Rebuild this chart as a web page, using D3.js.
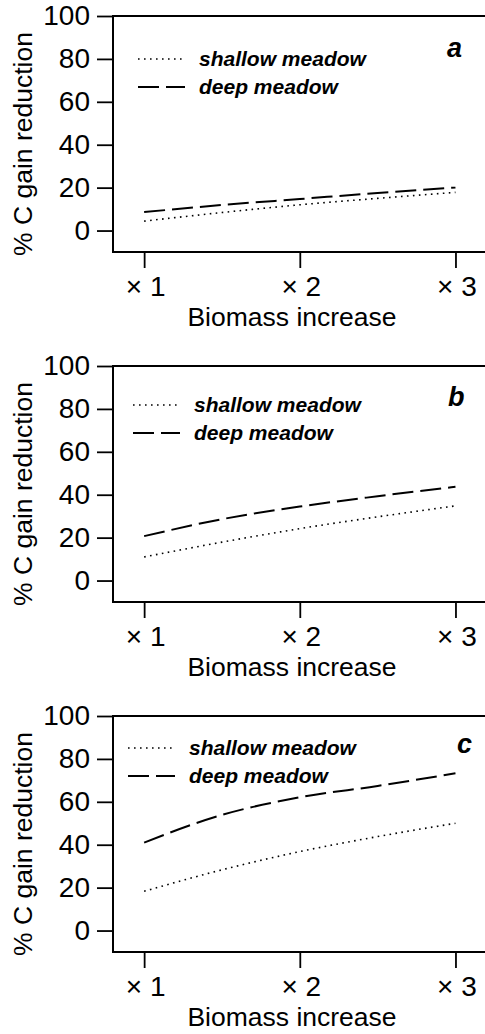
<!DOCTYPE html>
<html>
<head>
<meta charset="utf-8">
<script src="https://cdn.jsdelivr.net/npm/d3@7"></script>
<style>
  html, body { margin: 0; padding: 0; background: #fff; }
  svg { display: block; }
  text { font-family: "Liberation Sans", Arial, sans-serif; fill: #000; }
</style>
</head>
<body>
<svg id="chart" width="485" height="1034"></svg>
<script>
(function() {
  "use strict";

  // x = biomass multiplier
  var biomass = [1, 1.5, 2, 2.5, 3];
  var xTicks = [1, 2, 3];
  var yTicks = [0, 20, 40, 60, 80, 100];
  var panelLetters = ['a', 'b', 'c'];
  var seriesNames = ['shallow meadow', 'deep meadow'];

  // % C gain reduction
  var shallowA = [4.4, 8.4, 12.0, 15.0, 17.8];
  var deepA    = [8.6, 11.9, 14.7, 17.5, 20.1];
  var shallowB = [11.0, 17.9, 24.2, 29.7, 34.8];
  var deepB    = [20.7, 28.6, 34.5, 39.3, 43.7];
  var shallowC = [18.3, 28.3, 36.8, 43.8, 50.0];
  var deepC    = [41.0, 53.9, 62.1, 67.4, 73.3];

  var panelSeries = [[shallowA, deepA], [shallowB, deepB], [shallowC, deepC]];

  // 版面位置 (layout only)
  var config = {
    top: 16,
    step: 350,
    left: 113,
    right: 486.6,
    height: 236,
    tickFont: 28,
    titleFont: 26.5,
    legendFont: 21,
    // offsets relative to each panel top (letter y = baseline)
    legend: [{x: 138, y: 43}, {x: 133, y: 39}, {x: 128, y: 32}],
    letter: [{x: 447, y: 41}, {x: 448, y: 40}, {x: 457, y: 37}],
    styles: [
      {dash: '1.6,4.4', width: 1.6},
      {dash: '21,7', width: 2}
    ]
  };

  var svg = d3.select('#chart');

  var x = d3.scaleLinear().domain([0.8, 3.2]).range([config.left, config.right]);

  var lineFn = d3.line()
    .curve(d3.curveMonotoneX);

  panelSeries.forEach(function(series, idx) {
    var top = config.top + idx * config.step;
    var bottom = top + config.height;
    var y = d3.scaleLinear().domain([-10, 100]).range([bottom, top]);
    var g = svg.append('g').attr('class', 'panel');

    // box: left, top, bottom (right edge falls outside the picture)
    g.append('line')
      .attr('x1', config.left).attr('x2', 500)
      .attr('y1', top).attr('y2', top)
      .attr('stroke', '#000').attr('stroke-width', 2);
    g.append('line')
      .attr('x1', config.left).attr('x2', 500)
      .attr('y1', bottom).attr('y2', bottom)
      .attr('stroke', '#000').attr('stroke-width', 1.8);
    g.append('line')
      .attr('x1', config.left).attr('x2', config.left)
      .attr('y1', top - 1).attr('y2', bottom + 0.9)
      .attr('stroke', '#000').attr('stroke-width', 2);

    // y axis
    var yAxis = g.append('g')
      .attr('transform', 'translate(' + config.left + ',0)')
      .call(d3.axisLeft(y).tickValues(yTicks).tickSize(16).tickPadding(7));
    // x axis
    var xAxis = g.append('g')
      .attr('transform', 'translate(0,' + bottom + ')')
      .call(d3.axisBottom(x).tickValues(xTicks).tickSize(16).tickPadding(8)
        .tickFormat(function(d) { return '\u00d7 ' + d; }));

    [yAxis, xAxis].forEach(function(ax) {
      ax.select('.domain').remove();
      ax.selectAll('.tick line').attr('stroke', '#000').attr('stroke-width', 1.8);
      ax.selectAll('.tick text')
        .attr('fill', '#000')
        .style('font-family', '"Liberation Sans", Arial, sans-serif')
        .style('font-size', config.tickFont + 'px');
    });
    xAxis.selectAll('.tick text').attr('dx', 1);

    // axis titles
    g.append('text')
      .attr('x', 292)
      .attr('y', bottom + 74)
      .attr('text-anchor', 'middle')
      .style('font-size', config.titleFont + 'px')
      .text('Biomass increase');

    g.append('text')
      .attr('transform', 'translate(32,' + (top + 128) + ') rotate(-90)')
      .attr('text-anchor', 'middle')
      .style('font-size', config.titleFont + 'px')
      .text('% C gain reduction');

    // curves
    series.forEach(function(values, s) {
      var pts = values.map(function(v, i) { return [x(biomass[i]), y(v)]; });
      g.append('path')
        .attr('d', lineFn(pts))
        .attr('fill', 'none')
        .attr('stroke', '#000')
        .attr('stroke-width', config.styles[s].width)
        .attr('stroke-dasharray', config.styles[s].dash);
    });

    // legend
    var lg = config.legend[idx];
    seriesNames.forEach(function(name, s) {
      var ly = top + lg.y + s * 28;
      g.append('line')
        .attr('x1', lg.x).attr('x2', lg.x + 47)
        .attr('y1', ly).attr('y2', ly)
        .attr('stroke', '#000')
        .attr('stroke-width', config.styles[s].width)
        .attr('stroke-dasharray', config.styles[s].dash);
      g.append('text')
        .attr('x', lg.x + 61)
        .attr('y', ly + 6.8)
        .style('font-size', config.legendFont + 'px')
        .style('font-weight', 'bold')
        .style('font-style', 'italic')
        .text(name);
    });

    // panel letter
    var lt = config.letter[idx];
    g.append('text')
      .attr('x', lt.x)
      .attr('y', top + lt.y)
      .style('font-size', '27px')
      .style('font-weight', 'bold')
      .style('font-style', 'italic')
      .text(panelLetters[idx]);
  });
})();
</script>
</body>
</html>
